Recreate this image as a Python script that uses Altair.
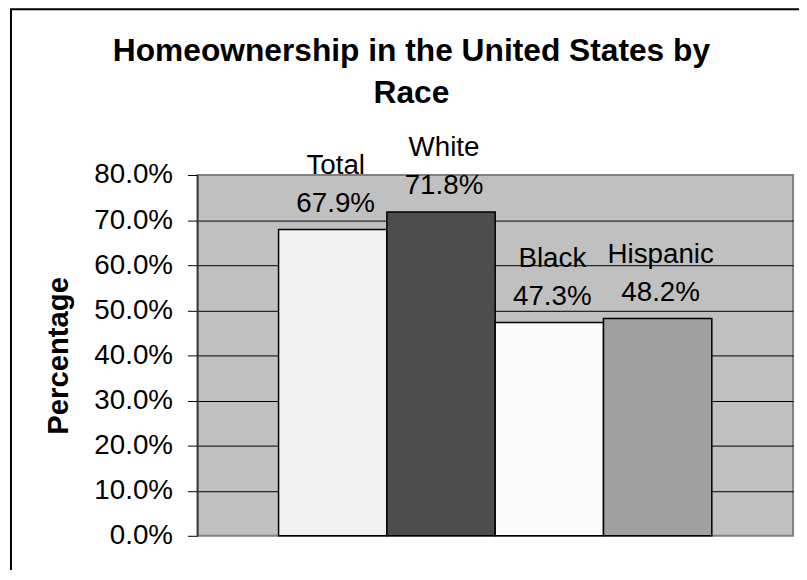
import altair as alt
import pandas as pd

# ---- data -------------------------------------------------------------
categories = ["Total", "White", "Black", "Hispanic"]
values = [0.679, 0.718, 0.473, 0.482]
bar_colors = ["#F2F2F2", "#4D4D4D", "#FAFAFA", "#A0A0A0"]
y_ticks = [0.0, 0.1, 0.2, 0.3, 0.4, 0.5, 0.6, 0.7, 0.8]
title_lines = ["Homeownership in the United States by", "Race"]
y_title = "Percentage"

df = pd.DataFrame({"race": categories, "share": values})
one = pd.DataFrame({"k": [0]})

FONT = "Liberation Sans"

x_enc = alt.X(
    "race:N",
    sort=categories,
    axis=None,
    scale=alt.Scale(paddingInner=0, paddingOuter=0.75),
)
y_axis = alt.Axis(
    values=y_ticks,
    format=".1%",
    title=y_title,
    grid=True,
    gridColor="black",
    gridWidth=1,
    gridOpacity={"condition": {"test": "datum.value > 0.001 && datum.value < 0.799", "value": 1}, "value": 0},
    tickSize=10,
    tickColor="black",
    tickWidth=1,
    labelFont=FONT,
    labelFontSize=28,
    labelColor="black",
    labelPadding=15,
    domainColor="#333333",
    domainWidth=1.5,
    titleFont=FONT,
    titleFontSize=29.5,
    titleFontWeight="bold",
    titleColor="black",
    titleAngle=270,
    titleX=-131,
    titleY=182,
    titleAlign="center",
    titleBaseline="alphabetic",
)
y_enc = alt.Y("share:Q", scale=alt.Scale(domain=[0, 0.8], nice=False), axis=y_axis)

base = alt.Chart(df)

bars = base.mark_bar(stroke="black", strokeWidth=1.5).encode(
    x=x_enc,
    y=y_enc,
    color=alt.Color(
        "race:N",
        scale=alt.Scale(domain=categories, range=bar_colors),
        legend=None,
    ),
)

value_text = base.mark_text(
    font=FONT, fontSize=28, baseline="alphabetic", align="center", dy=-18, dx=3, color="black"
).encode(x=x_enc, y=y_enc, text=alt.Text("share:Q", format=".1%"))

cat_text = base.mark_text(
    font=FONT, fontSize=28, baseline="alphabetic", align="center", dy=-56, dx=3, color="black"
).encode(x=x_enc, y=y_enc, text=alt.Text("race:N"))

title = alt.Chart(one).mark_text(
    text=title_lines,
    font=FONT,
    fontSize=32,
    fontWeight="bold",
    lineHeight=42,
    align="center",
    baseline="alphabetic",
    color="black",
).encode(x=alt.value(216), y=alt.value(-114.7))

frame = alt.Chart(one).mark_rect(
    fillOpacity=0, stroke="black", strokeWidth=2
).encode(
    x=alt.value(-188), x2=alt.value(700), y=alt.value(-167.3), y2=alt.value(500)
)

chart = (
    alt.layer(bars, value_text, cat_text, title, frame)
    .properties(
        width=601,
        height=364,
        autosize=alt.AutoSizeParams(type="none"),
        padding={"left": 191, "top": 166, "right": 6, "bottom": 32},
        background="white",
    )
    .configure_view(fill="#C0C0C0", stroke="#808080", strokeWidth=2)
)

chart.save("out.html", embed_options={"renderer": "svg", "actions": False})
